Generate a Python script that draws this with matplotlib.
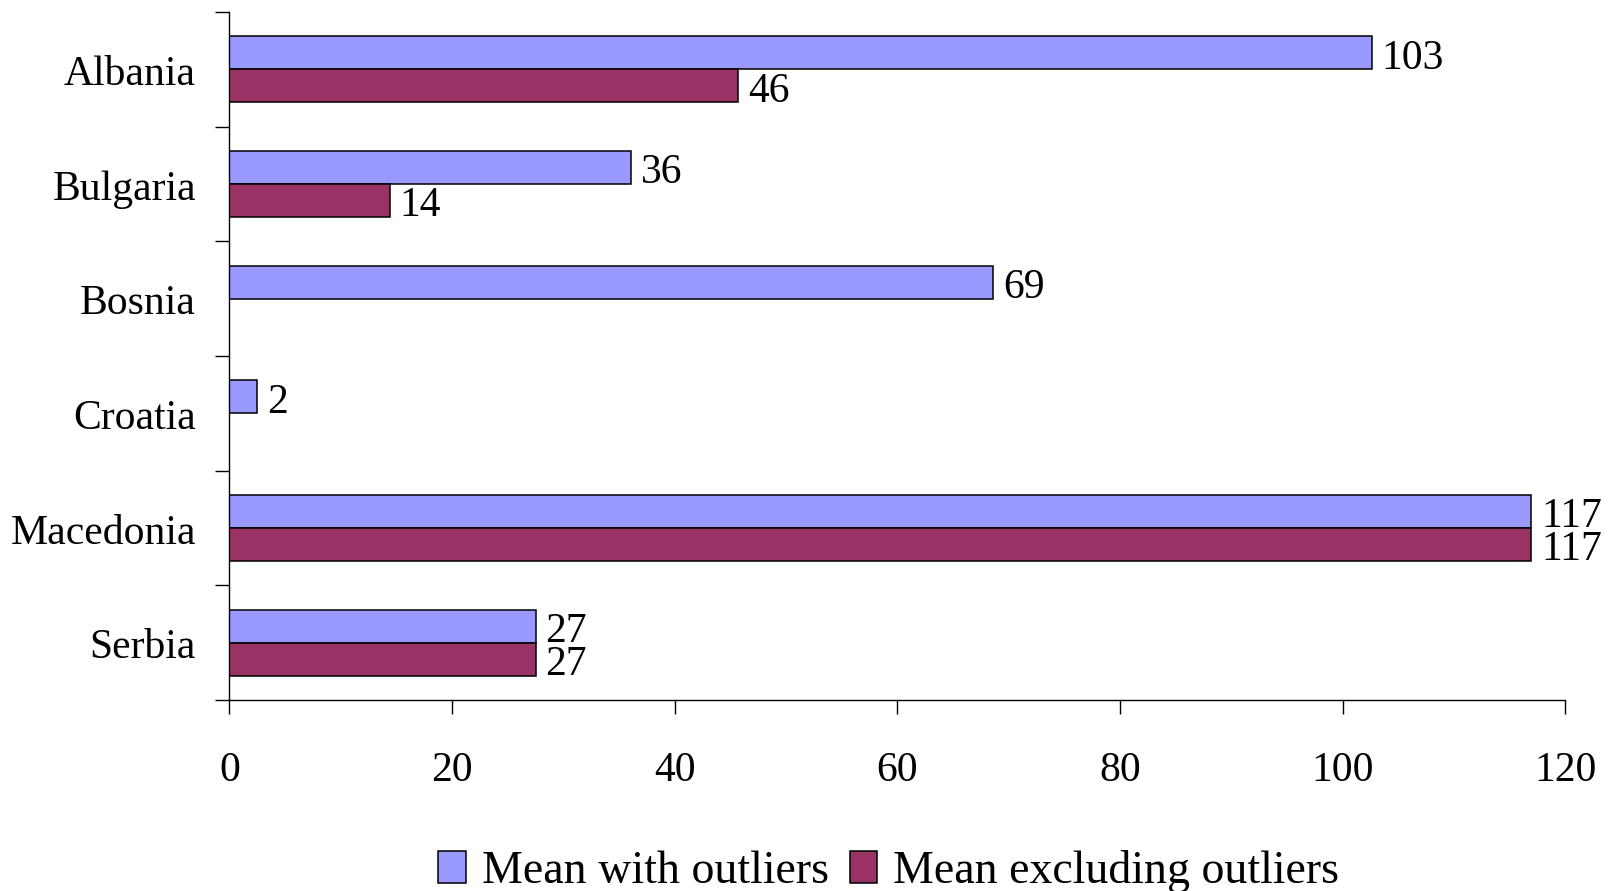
import matplotlib
matplotlib.use("Agg")
import matplotlib.pyplot as plt
import matplotlib.transforms as mtransforms
import numpy as np

categories = ["Albania", "Bulgaria", "Bosnia", "Croatia", "Macedonia", "Serbia"]
mean_with = [102.6, 36.1, 68.6, 2.5, 116.95, 27.5]
mean_excl = [45.7, 14.4, None, None, 116.95, 27.5]
labels_with = ["103", "36", "69", "2", "117", "27"]
labels_excl = ["46", "14", None, None, "117", "27"]
series_names = ["Mean with outliers", "Mean excluding outliers"]
xticks = [0, 20, 40, 60, 80, 100, 120]

plt.rcParams['font.family'] = ['Liberation Serif', 'DejaVu Serif']
FS = 30

fig = plt.figure(figsize=(16.13, 8.91), dpi=100)
ax = fig.add_axes([0.1422, 0.2144, 0.9704 - 0.1422, 0.9865 - 0.2144])

n = len(categories)
y = np.arange(n)
h = 0.288
c1, c2 = "#9999FF", "#993366"

w_vals = np.array(mean_with, dtype=float)
e_vals = np.array([np.nan if v is None else v for v in mean_excl], dtype=float)

b1 = ax.barh(y - h / 2, w_vals, height=h, color=c1, edgecolor="black", linewidth=1.1,
             label=series_names[0])
mask = ~np.isnan(e_vals)
b2 = ax.barh(y[mask] + h / 2, e_vals[mask], height=h, color=c2, edgecolor="black", linewidth=1.1,
             label=series_names[1])

for yi, v, lab in zip(y, w_vals, labels_with):
    ax.annotate(lab, (v, yi - h / 2), xytext=(7, -4), textcoords="offset points",
                va="center", ha="left", fontsize=FS)
for yi, v, lab in zip(y, e_vals, labels_excl):
    if lab is None:
        continue
    ax.annotate(lab, (v, yi + h / 2), xytext=(7, -4), textcoords="offset points",
                va="center", ha="left", fontsize=FS)

ax.set_xlim(0, 120)
ax.set_ylim(n - 0.5, -0.5)
ax.set_xticks(xticks)
ax.set_xticklabels([str(t) for t in xticks], fontsize=FS)
ax.tick_params(axis="x", direction="out", length=10, width=1, pad=27)

ax.set_yticks(np.arange(n + 1) - 0.5)
ax.set_yticklabels([])
ax.tick_params(axis="y", which="major", direction="out", length=10, width=1)

# category labels at bar-pair centres
lab_trans = mtransforms.blended_transform_factory(ax.transAxes, ax.transData) + \
    mtransforms.ScaledTranslation(-24 / 72, -4 / 72, fig.dpi_scale_trans)
for yi, name in zip(y, categories):
    ax.text(0, yi, name, transform=lab_trans, ha="right", va="center", fontsize=FS)

for s in ["top", "right"]:
    ax.spines[s].set_visible(False)
for s in ["left", "bottom"]:
    ax.spines[s].set_linewidth(1)

fig.legend(handles=[b1, b2], labels=series_names, loc="center",
           bbox_to_anchor=(0.551, 0.022), ncol=2, frameon=False, fontsize=33,
           handlelength=0.6, handleheight=0.7, handletextpad=0.35, columnspacing=0.45,
           borderpad=0)

fig.savefig("out.png", dpi=100)
